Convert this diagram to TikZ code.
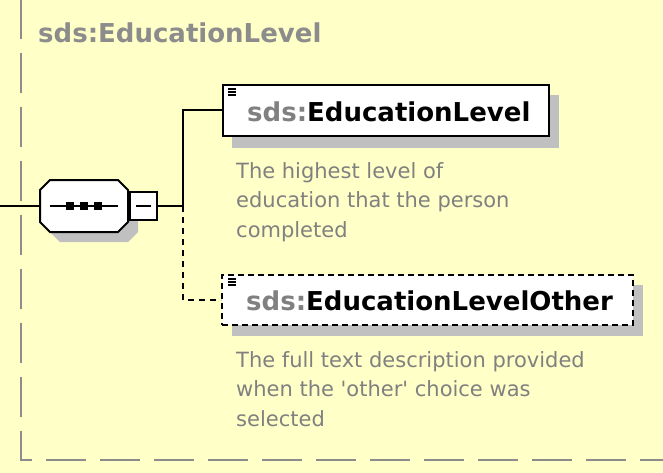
\documentclass[tikz,border=0pt]{standalone}
\usepackage{fontspec}
\setmainfont{DejaVu Sans}
\definecolor{bgyellow}{HTML}{FFFFC8}
\definecolor{framegrey}{HTML}{8C8C8C}
\definecolor{txtgrey}{HTML}{808080}
\definecolor{shadowgrey}{HTML}{C0C0C0}
\tikzset{
  elembox/.style={draw=black, line width=2pt, fill=white, minimum width=#1, inner sep=0pt, minimum height=51pt},
  conn/.style={line width=2pt, black},
  dconn/.style={line width=2pt, black, dash pattern=on 6pt off 5pt},
  nametext/.style={font=\bfseries\fontsize{26}{30}\selectfont, inner sep=0pt, anchor=base west},
  desctext/.style={font=\fontsize{21}{29.5}\selectfont, text=txtgrey, inner sep=0pt, anchor=base west, align=left},
}
\begin{document}
\begin{tikzpicture}[x=1pt,y=-1pt]
\fill[bgyellow] (0,0) rectangle (663,473);
\useasboundingbox (0,0) rectangle (663,473);
% outer dashed frame
\draw[framegrey, line width=2pt, dash pattern=on 40pt off 14pt] (680,460) -- (21,460) -- (21,-10);
\node[nametext, text=framegrey] (title) at (38,43) {sds:EducationLevel};
% sequence compositor
\fill[shadowgrey] (60,190) -- (128,190) -- (138,200) -- (138,232) -- (128,242) -- (60,242) -- (50,232) -- (50,200) -- cycle;
\draw[line width=2pt, fill=white] (50,180) -- (118,180) -- (128,190) -- (128,222) -- (118,232) -- (50,232) -- (40,222) -- (40,190) -- cycle;
\node[minimum width=88pt, minimum height=52pt, inner sep=0pt] (seq) at (84,206) {};
\draw[line width=2pt] (50,206) -- (118,206);
\foreach \x in {70,84,98} \fill (\x-4,202) rectangle (\x+4,210);
\node[draw, line width=2pt, fill=white, minimum width=27pt, minimum height=28pt, inner sep=0pt] (minus) at (143.5,206) {};
\draw[line width=2pt] (136,206) -- (151,206);
\coordinate (in) at (0,206);
\coordinate (j) at (183,206);
% element boxes
\fill[shadowgrey] (232,95) rectangle (559,148);
\node[elembox=326pt] (b1) at (385.5,110.5) {};
\fill[shadowgrey] (232,285) rectangle (643,336);
\node[elembox=411pt, dash pattern=on 6pt off 4pt, minimum height=50pt] (b2) at (427.5,300) {};
\foreach \y in {89,92,95} \draw[line width=1.2pt] (228,\y) -- (236,\y);
\foreach \y in {279,282,285} \draw[line width=1.2pt] (228,\y) -- (236,\y);
\node[nametext] (n1) at (247,122) {\textcolor{txtgrey}{sds:}EducationLevel};
\node[nametext] (n2) at (246,310) {\textcolor{txtgrey}{sds:}EducationLevelOther};
\node[desctext] (d1) at (236,237) {The highest level of\\education that the person\\completed};
\node[desctext] (d2) at (236,426) {The full text description provided\\when the \textquotesingle other\textquotesingle{} choice was\\selected};
% connectors
\draw[conn] (in) -- (seq.west);
\draw[conn] (minus.east) -- (j);
\draw[conn] (j) |- (b1.west);
\draw[dconn] (j) |- (b2.west);
\end{tikzpicture}
\end{document}
